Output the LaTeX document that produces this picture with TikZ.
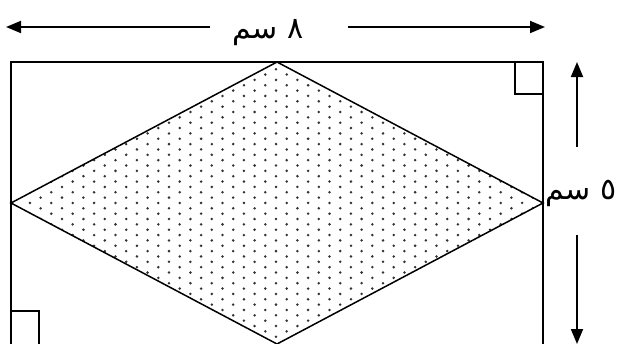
\documentclass[tikz,border=0pt]{standalone}
\usepackage{fontspec}
\usetikzlibrary{arrows.meta}
\newfontfamily\arabicfont[Script=Arabic]{DejaVu Sans}
\TeXXeTstate=1
\tikzset{
  frame/.style={line width=1.8pt,line join=miter},
  rhomb/.style={line width=1.5pt,line join=miter},
  dimarrow/.style={line width=1.8pt,-{Triangle[length=15pt,width=12pt]}},
  dimlabel/.style={inner sep=0pt,font=\arabicfont\fontsize{30}{36}\selectfont},
  dot/.style={fill=black!80}
}
\begin{document}
\begin{tikzpicture}[x=1pt,y=-1pt]
\useasboundingbox (0,0) rectangle (617,343);
% diamond vertices
\coordinate (T) at (277,62);
\coordinate (L) at (11,203);
\coordinate (R) at (543,203);
\coordinate (B) at (277,344);
% dots
\begin{scope}
  \clip (T) -- (R) -- (B) -- (L) -- cycle;
  \foreach \i [evaluate=\i as \xx using 8.5+10.7*\i,
               evaluate=\i as \off using {5.35*(1-mod(\i,2))}] in {0,...,50}{
    \foreach \j in {0,...,28}{
      \fill[dot] (\xx,47.8+10.7*\j+\off) circle (1.4pt);
    }
  }
\end{scope}
\draw[rhomb] (T) -- (R) -- (B) -- (L) -- cycle;
% rectangle
\draw[frame] (11,350) -- (11,62) -- (543,62) -- (543,350);
% right-angle marks
\draw[line width=1.5pt] (515,62) -- (515,94) -- (543,94);
\draw[line width=1.5pt] (11,311) -- (39,311) -- (39,350);
% top dimension
\node[dimlabel] (w) at (268,33) {\beginR ٨ سم\endR};
\coordinate (wl) at (210,27);
\coordinate (wr) at (348,27);
\coordinate (wlt) at (6,27);
\coordinate (wrt) at (545,27);
\draw[dimarrow] (wl) -- (wlt);
\draw[dimarrow] (wr) -- (wrt);
% right dimension
\node[dimlabel] (h) at (581,193) {\beginR ٥ سم\endR};
\coordinate (hu) at (577,147);
\coordinate (hd) at (577,235);
\coordinate (hut) at (577,62);
\coordinate (hdt) at (577,344);
\draw[dimarrow] (hu) -- (hut);
\draw[dimarrow] (hd) -- (hdt);
\end{tikzpicture}
\end{document}
